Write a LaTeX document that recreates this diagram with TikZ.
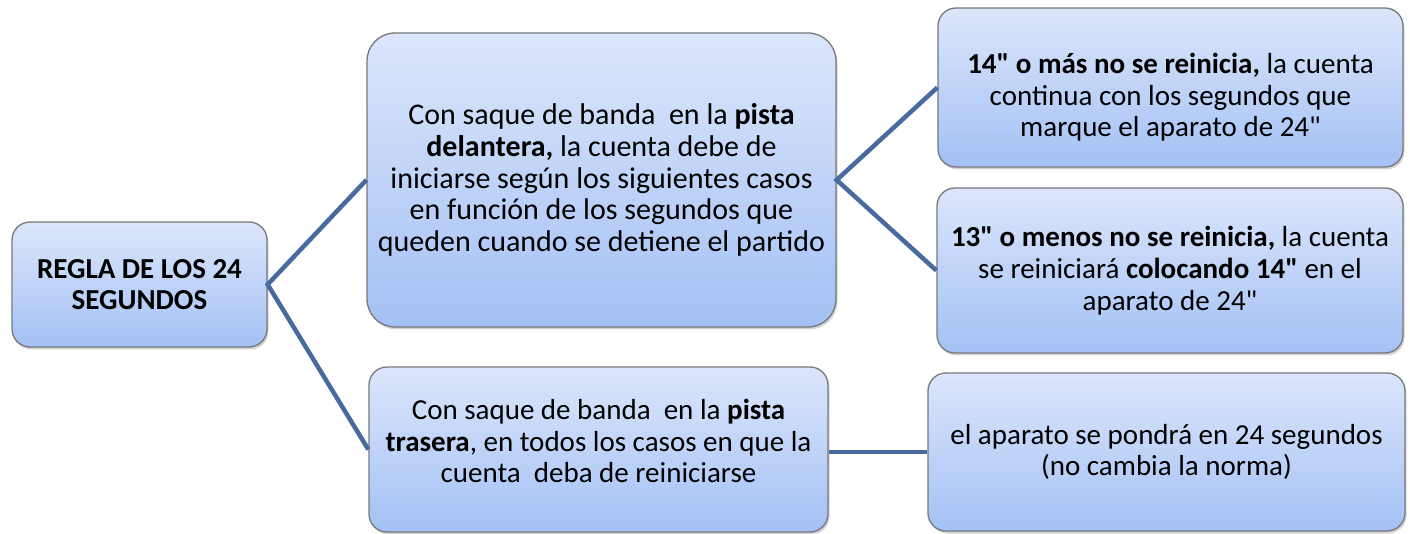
\documentclass[tikz,border=0pt]{standalone}
\usepackage{fontspec}
\setmainfont{Carlito}[Ligatures=TeXOff]
\usetikzlibrary{shadows}
\definecolor{topblue}{RGB}{220,230,251}
\definecolor{botblue}{RGB}{163,193,245}
\definecolor{edgegray}{RGB}{120,120,125}
\definecolor{linkblue}{RGB}{72,106,158}
\begin{document}
\begin{tikzpicture}[x=1pt,y=1pt,
  box/.style={draw=edgegray, line width=1.3pt, rounded corners=18pt,
    top color=topblue, bottom color=botblue, align=center, inner sep=0pt,
    font=\fontsize{29}{31.7}\selectfont,
    drop shadow={shadow xshift=1.5pt, shadow yshift=-2.5pt, opacity=0.35, fill=gray}},
  link/.style={draw=linkblue, line width=4.5pt}]
\useasboundingbox (0,0) rectangle (1410,533);
\node[box, minimum width=255pt, minimum height=125pt] (root) at (139.5,248.5)
  {\textbf{REGLA DE LOS 24}\\\textbf{SEGUNDOS}};
\node[box, minimum width=469pt, minimum height=294pt, rounded corners=28pt,
  font=\fontsize{30}{31.7}\selectfont] (midt) at (601.5,353)
  {Con saque de banda\ \ en la \textbf{pista}\\\textbf{delantera,} la cuenta debe de\\iniciarse según los siguientes casos\\en función de los segundos que\\queden cuando se detiene el partido};
\node[box, minimum width=459pt, minimum height=165pt] (midb) at (598.5,83.5)
  {Con saque de banda\ \ en la \textbf{pista}\\\textbf{trasera}, en todos los casos en que la\\cuenta\ \ deba de reiniciarse\rule[-17pt]{0pt}{1pt}};
\node[box, minimum width=465pt, minimum height=159pt] (rt) at (1170.5,445.5)
  {\rule{0pt}{40pt}\textbf{14" o más no se reinicia,} la cuenta\\continua con los segundos que\\marque el aparato de 24"};
\node[box, minimum width=466pt, minimum height=165pt] (rm) at (1170,262.5)
  {\textbf{13" o menos no se reinicia,} la cuenta\\se reiniciará \textbf{colocando 14"} en el\\aparato de 24"};
\node[box, minimum width=477pt, minimum height=158pt] (rb) at (1166.5,81)
  {el aparato se pondrá en 24 segundos\\(no cambia la norma)};
\draw[link] (midt.west) -- (root.east) -- (midb.west);
\draw[link] (rt.west) -- (midt.east) -- (rm.west);
\draw[link] (midb.east |- rb.west) -- (rb.west);
\end{tikzpicture}
\end{document}
